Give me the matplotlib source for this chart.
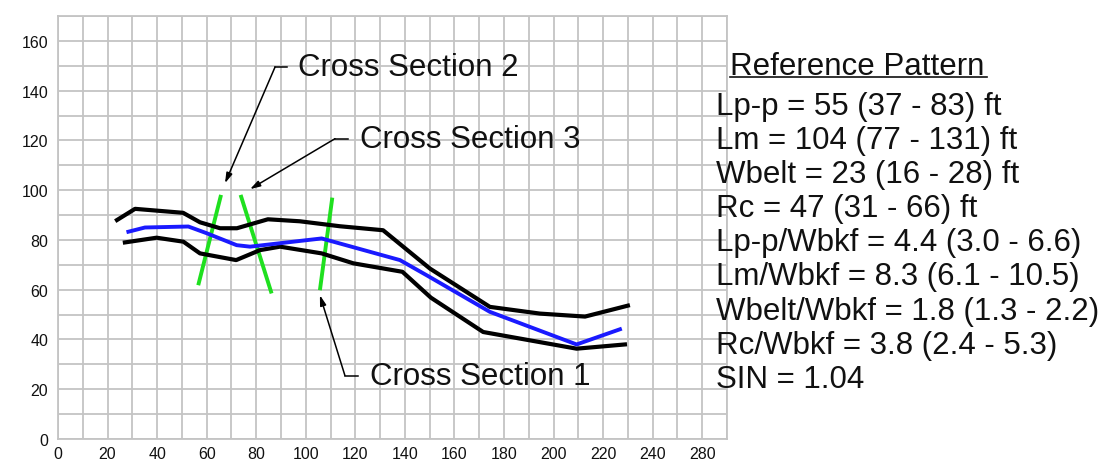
import matplotlib
matplotlib.use("Agg")
import matplotlib.pyplot as plt
from matplotlib.lines import Line2D

plt.rcParams['font.family'] = ['Liberation Sans', 'DejaVu Sans']

# channel profile: upper / lower envelope and centre line (ft)
upper_x = [23.8, 31.1, 50.5, 57.3, 65.4, 72.2, 84.7, 97.6, 113.8, 131.2, 150.1, 174.3, 194.5, 212.7, 230.0]
upper_y = [88.0, 92.5, 90.9, 87.1, 84.7, 84.7, 88.3, 87.5, 85.5, 83.9, 68.5, 53.1, 50.4, 49.2, 53.6]

lower_x = [27.0, 39.8, 50.6, 57.3, 71.9, 81.5, 89.6, 106.4, 119.2, 139.0, 150.5, 171.6, 209.3, 228.8]
lower_y = [79.0, 80.9, 79.3, 74.6, 71.9, 75.9, 77.3, 74.6, 70.6, 67.2, 56.8, 43.0, 36.3, 38.0]

center_x = [28.4, 35.1, 52.6, 60.0, 72.1, 77.5, 106.4, 138.0, 148.8, 174.3, 209.3, 226.8]
center_y = [83.3, 85.0, 85.4, 82.7, 77.9, 77.3, 80.6, 71.9, 65.8, 51.1, 38.0, 44.1]

# cross section lines
xs_lines = {
    'Cross Section 2': ([56.6, 65.8], [61.8, 98.1]),
    'Cross Section 3': ([73.7, 86.2], [98.1, 58.5]),
    'Cross Section 1': ([110.7, 105.7], [97.0, 59.8]),
}

xticks = [0, 20, 40, 60, 80, 100, 120, 140, 160, 180, 200, 220, 240, 260]
xtick_labels = ['0', '20', '40', '60', '80', '100', '120', '140', '160', '180', '200', '220', '240', '280']
yticks = [0, 20, 40, 60, 80, 100, 120, 140, 160]

pattern_title = 'Reference Pattern'
pattern_lines = [
    'Lp-p = 55 (37 - 83) ft',
    'Lm = 104 (77 - 131) ft',
    'Wbelt = 23 (16 - 28) ft',
    'Rc = 47 (31 - 66) ft',
    'Lp-p/Wbkf = 4.4 (3.0 - 6.6)',
    'Lm/Wbkf = 8.3 (6.1 - 10.5)',
    'Wbelt/Wbkf = 1.8 (1.3 - 2.2)',
    'Rc/Wbkf = 3.8 (2.4 - 5.3)',
    'SIN = 1.04',
]

W, H = 1111, 477
fig = plt.figure(figsize=(W / 100, H / 100), dpi=100)
ax = fig.add_axes([58 / W, 1 - 440 / H, (727 - 58) / W, (440 - 17) / H])

ax.set_xlim(0, 270)
ax.set_ylim(0, 170)
ax.set_xticks(range(0, 271, 10), minor=True)
ax.set_yticks(range(0, 171, 10), minor=True)
ax.set_xticks(xticks)
ax.set_xticklabels(xtick_labels)
ax.set_yticks(yticks)
ax.grid(which='both', color='#c4c4c4', lw=1.3)
ax.set_axisbelow(True)
for s in ax.spines.values():
    s.set_color('#c4c4c4')
    s.set_linewidth(1.3)
ax.tick_params(which='both', length=0, labelsize=11.5, colors='#111111')
ax.tick_params(axis='x', pad=5)
ax.tick_params(axis='y', pad=7)

for name, (gx, gy) in xs_lines.items():
    ax.plot(gx, gy, color='#1fe01f', lw=2.8, solid_capstyle='butt', zorder=2)

ax.plot(upper_x, upper_y, color='black', lw=3, zorder=3)
ax.plot(lower_x, lower_y, color='black', lw=3, zorder=3)
ax.plot(center_x, center_y, color='#1a1aff', lw=2.8, zorder=4)

arrow = dict(arrowstyle='-|>,head_length=0.6,head_width=0.18', color='black', lw=1.1, shrinkA=0, shrinkB=0)

# leaders: text elbow -> bend -> arrow tip
leaders = [
    ('Cross Section 2', (67.4, 102.8), (87.6, 149.5), (92.4, 149.5), (96.9, 149.5)),
    ('Cross Section 3', (77.5, 100.4), (111.8, 120.7), (117.1, 120.7), (121.9, 120.7)),
    ('Cross Section 1', (105.7, 57.8), (115.8, 25.5), (121.2, 25.5), (125.9, 25.5)),
]
for label, tip, bend, elbow, txt in leaders:
    ax.plot([elbow[0], bend[0]], [elbow[1], bend[1]], color='black', lw=1.1, zorder=5)
    ax.annotate('', xy=tip, xytext=bend, arrowprops=arrow, zorder=5)
    ax.text(txt[0], txt[1], label, fontsize=22.5, va='center', ha='left', color='#111111', zorder=6)

fig.text(730 / W, 1 - 75 / H, pattern_title, fontsize=22.5, va='baseline', ha='left', color='#111111')
fig.add_artist(Line2D([730 / W, 987 / W], [1 - 78 / H, 1 - 78 / H], color='#111111', lw=1.2))
for i, line in enumerate(pattern_lines):
    base = 115 + i * 34.1
    fig.text(716 / W, 1 - base / H, line, fontsize=22.5, va='baseline', ha='left', color='#111111')

fig.savefig('out.png', dpi=100)
